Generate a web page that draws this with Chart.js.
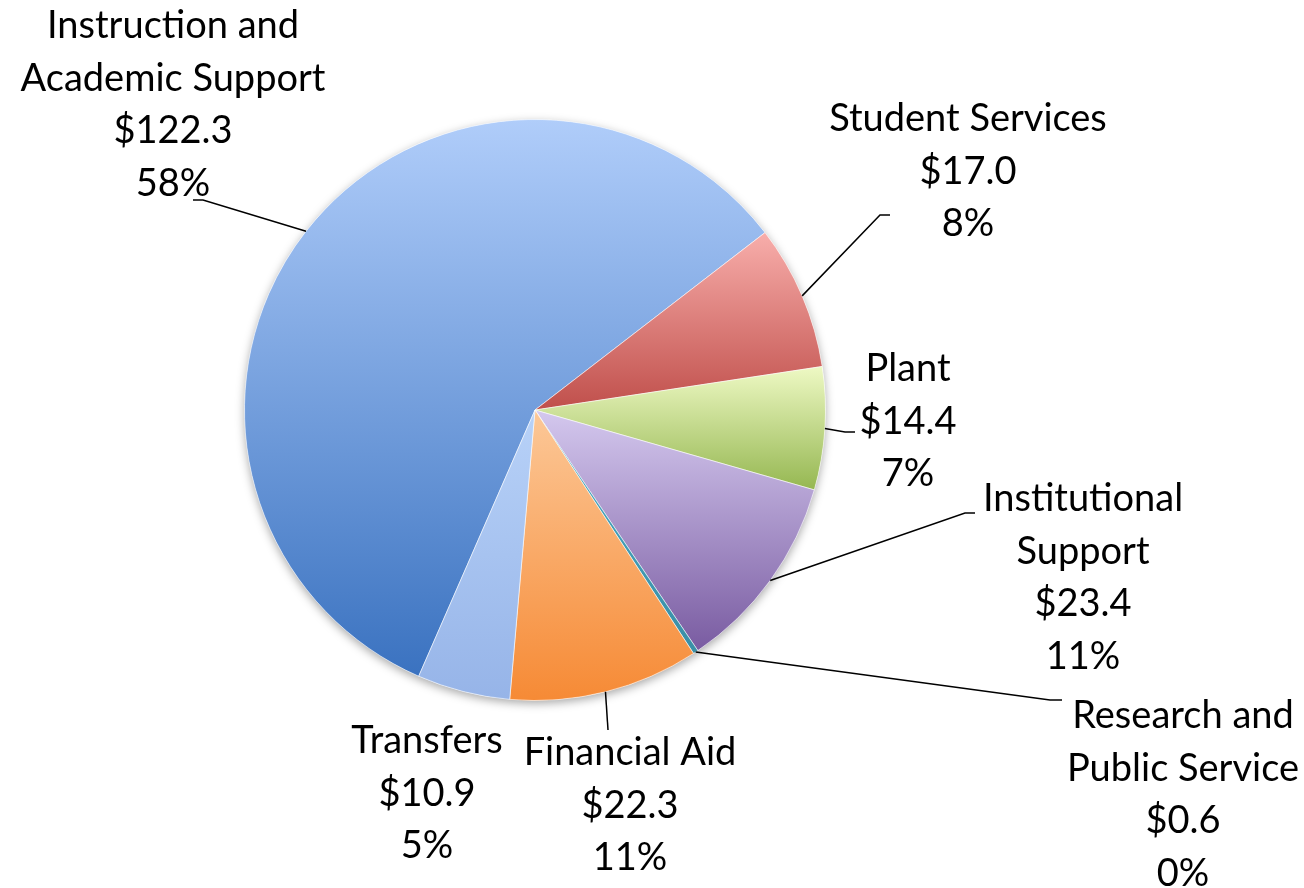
<!DOCTYPE html>
<html>
<head>
<meta charset="utf-8">
<script src="https://cdn.jsdelivr.net/npm/chart.js@4/dist/chart.umd.min.js"></script>
<style>
  html, body { margin: 0; padding: 0; background: #ffffff; }
  #wrap { width: 1304px; height: 888px; position: relative; }
</style>
</head>
<body>
<div id="wrap"><canvas id="c" width="1304" height="888"></canvas></div>
<script>
// ---- data ----
const categories = ['Instruction and Academic Support', 'Student Services', 'Plant', 'Institutional Support', 'Research and Public Service', 'Financial Aid', 'Transfers'];
const labelLines = [['Instruction and', 'Academic Support'], ['Student Services'], ['Plant'], ['Institutional', 'Support'], ['Research and', 'Public Service'], ['Financial Aid'], ['Transfers']];
const amounts = [122.3, 17.0, 14.4, 23.4, 0.6, 22.3, 10.9];

// ---- styles ----
const gradientStops = [
  ['#b0cdfa', '#3a72c0'],
  ['#f8aeab', '#c04f4b'],
  ['#eef9c4', '#95b751'],
  ['#d4c8ee', '#795ba1'],
  ['#4bacc6', '#3a8ea6'],
  ['#fcc898', '#f68a35'],
  ['#b8d2f8', '#96b4e8']
];
const FONT = '38px Lato, "Open Sans", sans-serif';
const LINE_H = 52.5;
// label layout: text anchor (center x, first-line y) and leader elbow/end points
const labelLayout = [
  { tx: 173, ty: 26,  elbow: [203, 200], end: [193, 200] },
  { tx: 968, ty: 119, elbow: [880, 215], end: [890, 215] },
  { tx: 908, ty: 369, elbow: [845, 432], end: [855, 432] },
  { tx: 1083, ty: 499, elbow: [965, 513], end: [975, 513] },
  { tx: 1183, ty: 716, elbow: [1050, 700], end: [1062, 700] },
  { tx: 630, ty: 753, elbow: null, end: [608, 730] },
  { tx: 427, ty: 741, elbow: null, end: null }
];

const total = amounts.reduce((a, b) => a + b, 0);
const ROTATION = 203.6;

function sliceGradient(c) {
  const chart = c.chart;
  const i = c.dataIndex;
  const area = chart.chartArea;
  const stops = gradientStops[i];
  if (!area) return stops[1];
  const cx = (area.left + area.right) / 2;
  const cy = (area.top + area.bottom) / 2;
  const r = Math.min(area.right - area.left, area.bottom - area.top) / 2;
  let before = 0;
  for (let k = 0; k < i; k++) before += amounts[k];
  const a0 = ROTATION + before / total * 360;
  const a1 = a0 + amounts[i] / total * 360;
  const ys = [cy];
  const yAt = a => cy - r * Math.cos(a * Math.PI / 180);
  ys.push(yAt(a0), yAt(a1));
  for (let k = Math.ceil(a0 / 180); k * 180 <= a1; k++) ys.push(yAt(k * 180));
  const y0 = Math.min(...ys), y1 = Math.max(...ys);
  const g = chart.ctx.createLinearGradient(0, y0, 0, y1 + 0.01);
  g.addColorStop(0, stops[0]);
  g.addColorStop(1, stops[1]);
  return g;
}

const shadowPlugin = {
  id: 'pieShadow',
  beforeDatasetsDraw(chart) {
    const arc = chart.getDatasetMeta(0).data[0];
    if (!arc) return;
    const ctx = chart.ctx;
    ctx.save();
    ctx.shadowColor = 'rgba(0,0,0,0.35)';
    ctx.shadowBlur = 10;
    ctx.shadowOffsetY = 3;
    ctx.fillStyle = '#ffffff';
    ctx.beginPath();
    ctx.arc(arc.x, arc.y, arc.outerRadius, 0, Math.PI * 2);
    ctx.fill();
    ctx.restore();
  }
};

const labelPlugin = {
  id: 'sliceLabels',
  afterDatasetsDraw(chart) {
    const ctx = chart.ctx;
    const meta = chart.getDatasetMeta(0);
    ctx.save();
    ctx.strokeStyle = '#000000';
    ctx.lineWidth = 1.5;
    meta.data.forEach((arc, i) => {
      const L = labelLayout[i];
      if (!L.end) return;
      const mid = (arc.startAngle + arc.endAngle) / 2;
      const sx = arc.x + Math.cos(mid) * arc.outerRadius;
      const sy = arc.y + Math.sin(mid) * arc.outerRadius;
      ctx.beginPath();
      ctx.moveTo(sx, sy);
      if (L.elbow) ctx.lineTo(L.elbow[0], L.elbow[1]);
      ctx.lineTo(L.end[0], L.end[1]);
      ctx.stroke();
    });
    ctx.fillStyle = '#000000';
    ctx.font = FONT;
    ctx.textAlign = 'center';
    ctx.textBaseline = 'middle';
    meta.data.forEach((arc, i) => {
      const L = labelLayout[i];
      const lines = labelLines[i].concat(['$' + amounts[i].toFixed(1), Math.round(amounts[i] / total * 100) + '%']);
      lines.forEach((t, j) => ctx.fillText(t, L.tx, L.ty + j * LINE_H));
    });
    ctx.restore();
  }
};

new Chart(document.getElementById('c'), {
  type: 'pie',
  data: {
    labels: categories,
    datasets: [{
      data: amounts,
      backgroundColor: sliceGradient,
      borderColor: 'rgba(255,255,255,0.55)',
      borderWidth: 1
    }]
  },
  options: {
    responsive: false,
    animation: false,
    rotation: ROTATION,
    layout: { padding: { top: 119, bottom: 187, left: 244, right: 478 } },
    plugins: { legend: { display: false }, tooltip: { enabled: false } }
  },
  plugins: [shadowPlugin, labelPlugin]
});
</script>
</body>
</html>
